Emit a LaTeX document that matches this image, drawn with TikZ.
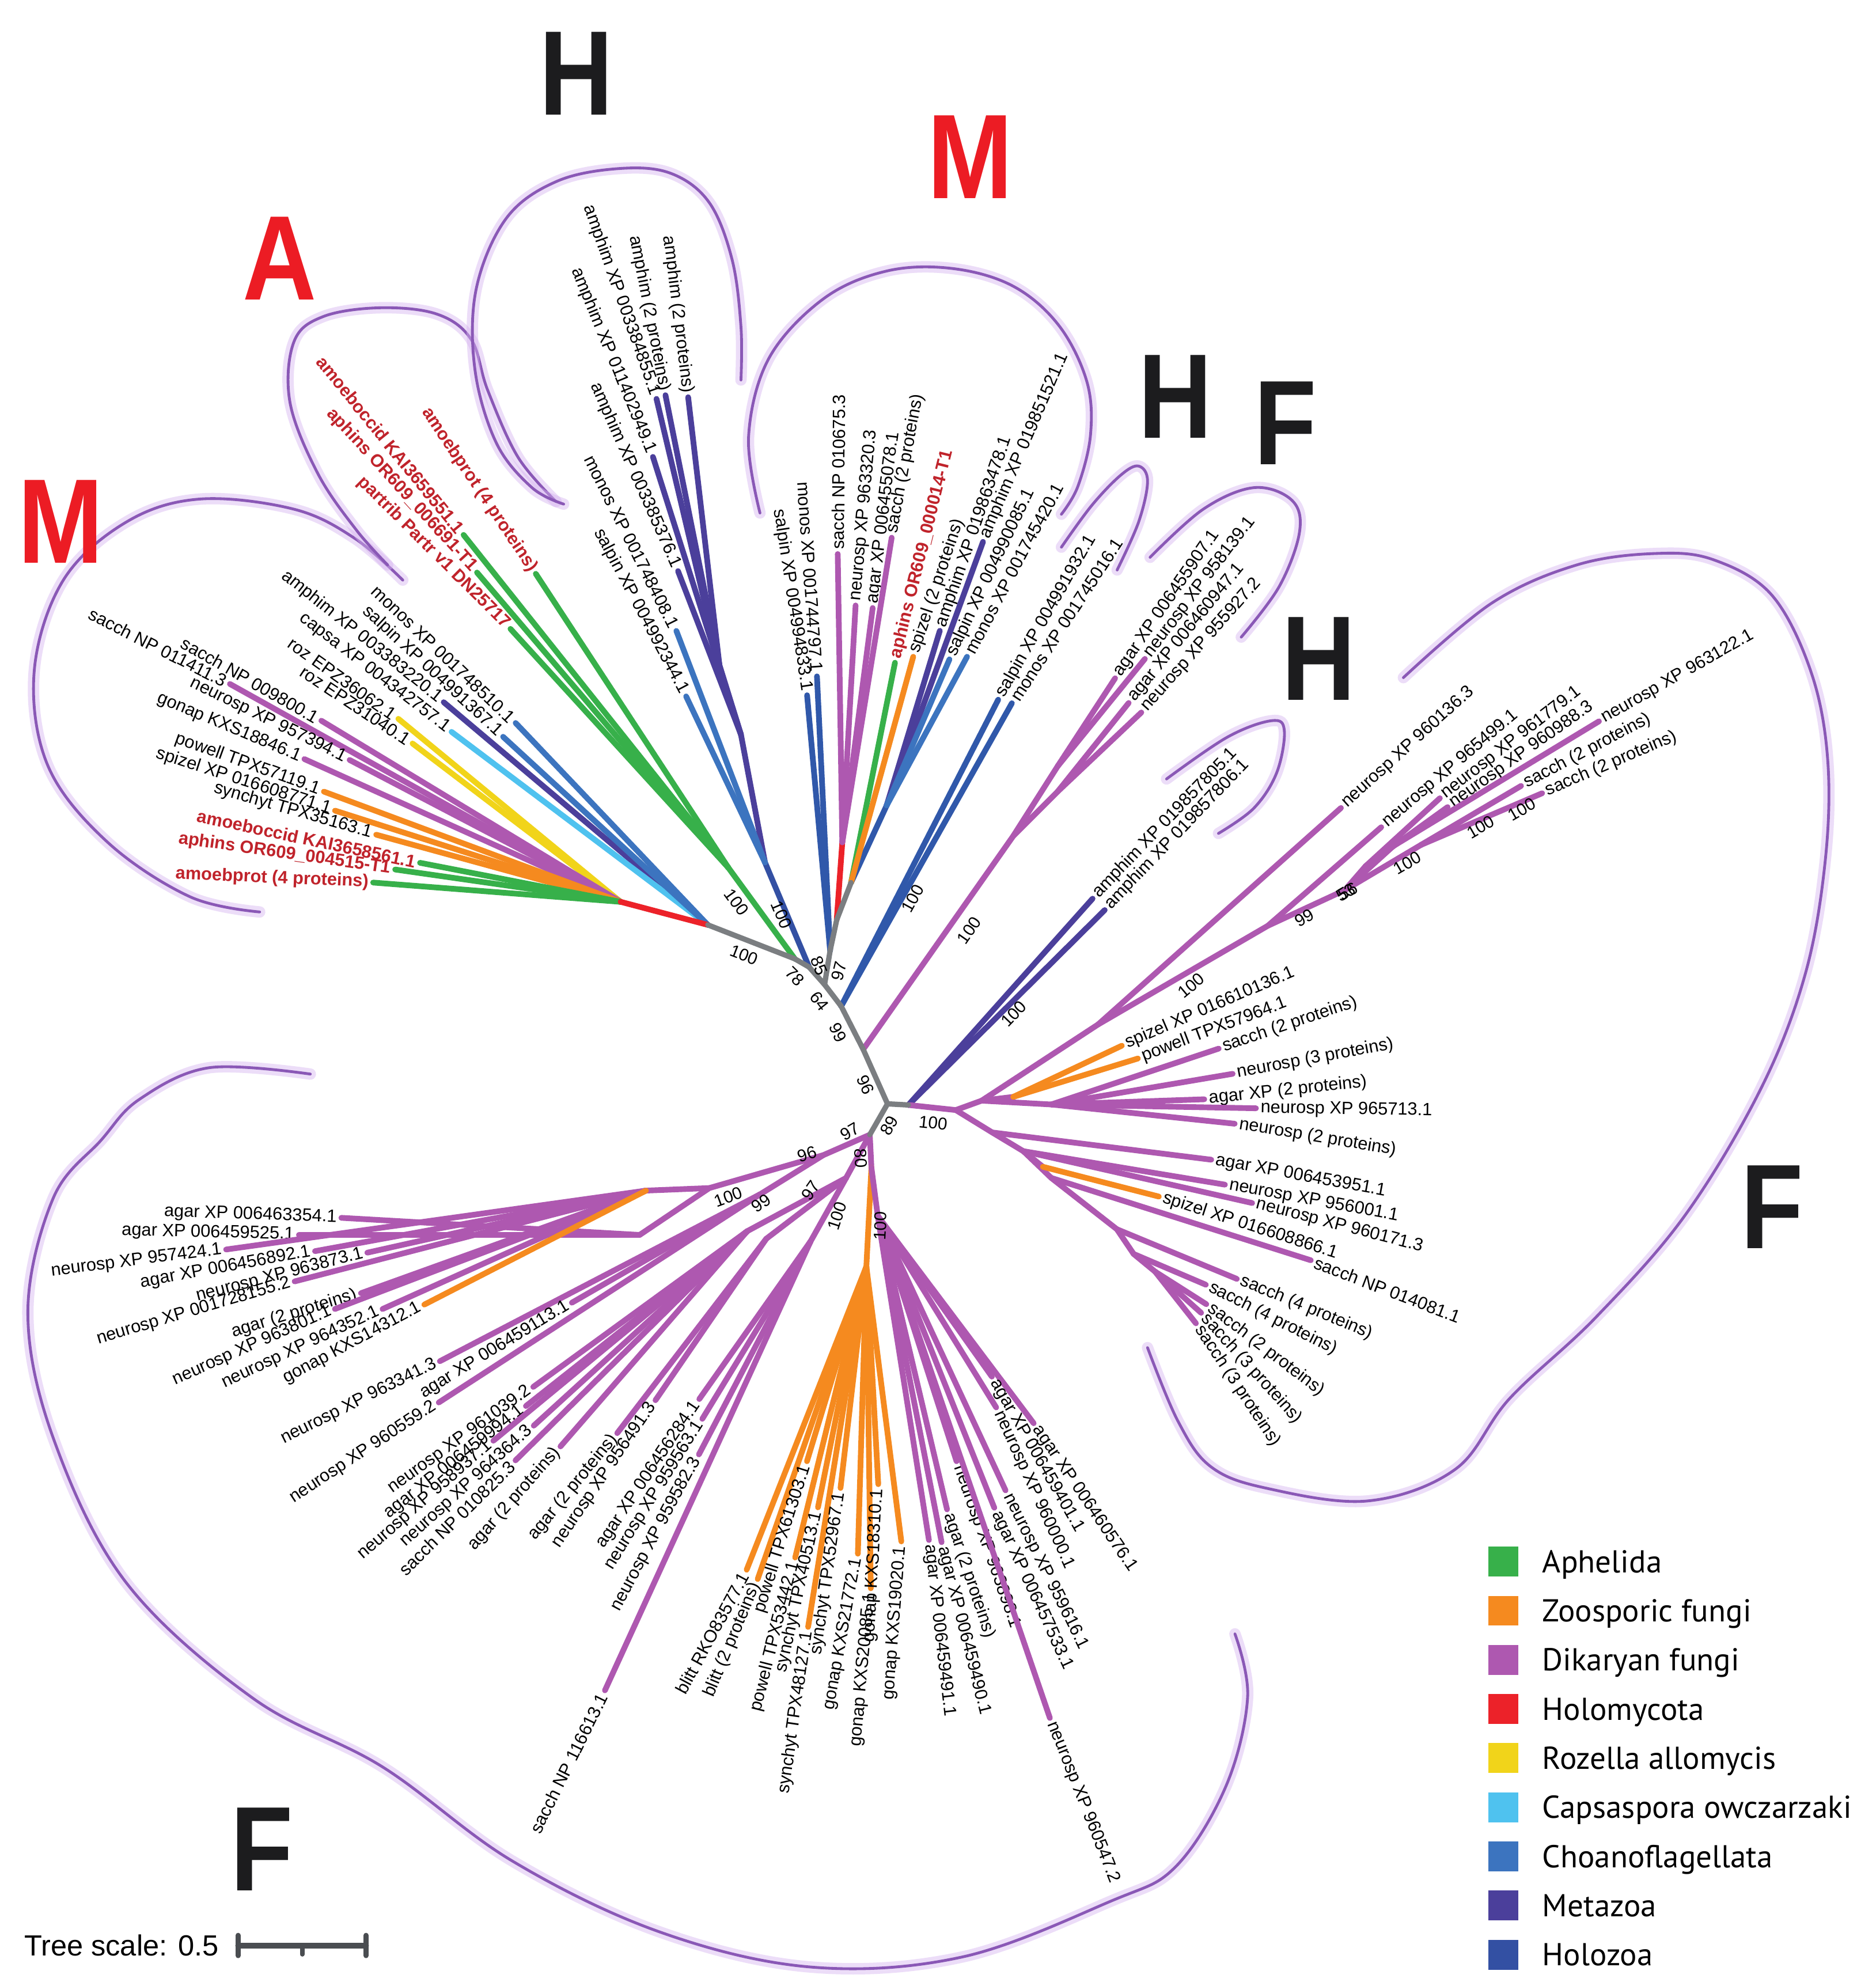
\documentclass[tikz,border=0pt]{standalone}
\usepackage{fontspec}
\setmainfont{Liberation Sans}
\newfontfamily\legfont{PT Sans}
\usetikzlibrary{calc}
\definecolor{cAph}{HTML}{37B04A}
\definecolor{cZoo}{HTML}{F58A1F}
\definecolor{cDik}{HTML}{AE58B0}
\definecolor{cHolm}{HTML}{EC2229}
\definecolor{cRoz}{HTML}{F1D41A}
\definecolor{cCap}{HTML}{4FC2EF}
\definecolor{cCho}{HTML}{3C74BF}
\definecolor{cMet}{HTML}{4B3F9B}
\definecolor{cHoz}{HTML}{3058AA}
\definecolor{cHozL}{HTML}{3350A3}
\definecolor{cGrey}{HTML}{7B7E81}
\definecolor{cRedTxt}{HTML}{C0232B}
\definecolor{cBigRed}{HTML}{EC1C24}
\definecolor{cBigBlk}{HTML}{1C1C1E}
\definecolor{cPet}{HTML}{8A58B6}
\definecolor{cGlow}{HTML}{D6B4F0}
\definecolor{cBar}{HTML}{4A4D51}
\tikzset{
  br/.style={line width=4.5pt, line cap=round},
  gr/.style={line width=4.2pt, draw=cGrey, line cap=round, line join=round},
  lab/.style={font=\fontsize{14}{14}\selectfont, inner xsep=3.5pt, inner ysep=1pt},
  redlab/.style={font=\fontsize{14}{14}\selectfont\bfseries, text=cRedTxt},
  bsn/.style={font=\fontsize{13.5}{13.5}\selectfont, inner sep=0pt},
  big/.style={font=\fontsize{95}{95}\selectfont\bfseries, xscale=0.85, inner sep=0pt},
  petal/.style={draw=cPet, line width=2.2pt, line cap=round},
  glow/.style={draw=cGlow, line width=9pt, opacity=0.45, line cap=round},
  legsq/.style={minimum width=23.5pt, minimum height=23.6pt, inner sep=0pt, draw=none},
  legtx/.style={font=\legfont\fontsize{25}{25}\selectfont, inner sep=0pt, anchor=base west},
}
% leaf: [label opts]{parent}{name}{tip}{colour}{text}{rotation}{anchor}
\newcommand\lfx[8][]{%
  \coordinate (#3) at (#4);
  \draw[br,#5] (#2) -- (#3);
  \node[lab,rotate=#7,anchor=#8,#1] (#3-t) at (#3) {#6};%
}
\newcommand\petalpath[1]{%
  \draw[glow] plot[smooth,tension=0.6] coordinates {#1};
  \draw[petal] plot[smooth,tension=0.6] coordinates {#1};
}
\begin{document}
\begin{tikzpicture}[x=1pt,y=-1pt]
\useasboundingbox (0,0) rectangle (1481,1568);
\fill[white] (0,0) rectangle (1481,1568);

% ---------------- petals ----------------
\petalpath{(318,458) (280,425) (232,402) (158,394) (100,412) (50,458) (27,530) (38,605) (85,665) (150,708) (205,720)}
\petalpath{(306,446) (281,418) (251,374) (229,318) (232,270) (255,250) (300,243) (345,248) (372,268) (385,308) (409,361) (439,396)}
\petalpath{(445,398) (420,385) (392,350) (375,292) (376,228) (400,172) (440,143) (490,133) (530,137) (560,160) (578,205) (585,258) (585,300)}
\petalpath{(600,405) (591,345) (607,283) (650,236) (700,214) (752,212) (800,226) (836,257) (858,301) (861,343) (851,384) (838,406)}
\petalpath{(838,432) (862,399) (885,375) (899,368) (906,380) (899,412) (882,450)}
\petalpath{(908,440) (950,402) (990,385) (1020,395) (1026,420) (1010,463) (980,503)}
\petalpath{(921,615) (969,582) (1004,569) (1014,577) (1008,610) (990,638) (962,658)}
\petalpath{(1108,535) (1178,476) (1245,446) (1307,437) (1353,442) (1399,470) (1430,531) (1443,600) (1441,680) (1425,770) (1390,860) (1330,960) (1260,1040) (1192,1104) (1149,1160) (1080,1185) (1000,1175) (956,1158) (930,1122) (906,1064)}
\petalpath{(245,848) (165,843) (110,868) (80,900) (42,946) (22,1037) (43,1138) (100,1250) (200,1341) (302,1395) (404,1469) (520,1525) (640,1553) (760,1545) (877,1501) (928,1474) (968,1410) (985,1340) (975,1290)}

% ---------------- backbone nodes ----------------
\coordinate (nL) at (558.8,730.2);
\coordinate (g1) at (627.5,757);
\coordinate (g2) at (638.8,763.5);
\coordinate (n78) at (651,777.3);
\coordinate (nB1) at (655.4,750.5);
\coordinate (nRd) at (660.6,726.2);
\coordinate (nMt) at (671.9,696.9);
\coordinate (nC100) at (664.1,794.4);
\coordinate (nP100) at (681.5,828.5);
\coordinate (nRoot) at (700.7,871.5);
\coordinate (nMz100) at (717.2,872.4);
\coordinate (nRF) at (754.6,876.4);
\coordinate (nBF) at (686.7,895.9);

% ---------------- left M clade ----------------
\coordinate (nR) at (490,712);
\lfx{nL}{m1}{350.3,554.4}{cMet}{amphim XP 003383220.1}{-38.7}{east}
\lfx{nL}{m4}{356.5,577.8}{cCap}{capsa XP 004342757.1}{-37.5}{east}
\lfx{nL}{m3}{397.2,581.7}{cCho}{salpin XP 004991367.1}{-42.8}{east}
\lfx{nL}{m2}{407.1,570.8}{cCho}{monos XP 001748510.1}{-43.6}{east}
\lfx{nR}{m5}{314.5,567.5}{cRoz}{roz EPZ36062.1}{-35.4}{east}
\lfx{nR}{m6}{325.7,587}{cRoz}{roz EPZ31040.1}{-33.6}{east}
\lfx{nR}{m7}{181.5,540}{cDik}{sacch NP 011411.3}{-27}{east}
\lfx{nR}{m8}{253.7,569}{cDik}{sacch NP 009800.1}{-29.7}{east}
\lfx{nR}{m9}{276,600}{cDik}{neurosp XP 957394.1}{-26.1}{east}
\lfx{nR}{m10}{240.3,599.3}{cDik}{gonap KXS18846.1}{-22.7}{east}
\lfx{nR}{m11}{255.7,625}{cZoo}{powell TPX57119.1}{-19.8}{east}
\lfx{nR}{m12}{264.5,640}{cZoo}{spizel XP 016608771.1}{-17.8}{east}
\lfx{nR}{m13}{297,659}{cZoo}{synchyt TPX35163.1}{-16.1}{east}
\lfx[redlab]{nR}{m14}{331.6,681.2}{cAph}{amoeboccid KAI3658561.1}{-12}{east}
\lfx[redlab]{nR}{m15}{312,686.5}{cAph}{aphins OR609\_004515-T1}{-8.1}{east}
\lfx[redlab]{nR}{m16}{294.6,696.8}{cAph}{amoebprot (4 proteins)}{-2.4}{east}
\draw[br,cHolm] (nL) -- (nR);

% ---------------- A clade ----------------
\coordinate (nA) at (575,685);
\draw[br,cAph] (g1) -- (nA);
\lfx[redlab]{nA}{a1}{366,422.3}{cAph}{amoeboccid KAI3659551.1}{-50.9}{east}
\lfx[redlab]{nA}{a2}{376.6,452}{cAph}{aphins OR609\_006691-T1}{-47.6}{east}
\lfx[redlab]{nA}{a3}{403,496.5}{cAph}{partrib Partr v1 DN25717}{-44.8}{east}
\lfx[redlab]{nA}{a4}{423,453}{cAph}{amoebprot (4 proteins)}{-56.1}{east}

% ---------------- H top clade ----------------
\coordinate (nHz1) at (604,681);
\coordinate (nMzB) at (585,580);
\coordinate (nMzA) at (568,525);
\draw[br,cHozL] (g2) -- (nHz1);
\draw[br,cMet] (nHz1) -- (nMzB) -- (nMzA);
\lfx{nMzA}{h1}{543.3,313.6}{cMet}{amphim (2 proteins)}{-82.9}{east}
\lfx{nMzA}{h2}{525.4,312}{cMet}{amphim (2 proteins)}{-78.9}{east}
\lfx{nMzA}{h3}{518.3,314.9}{cMet}{amphim XP 003384855.1}{-70.5}{east}
\lfx{nMzB}{h4}{515.5,360.7}{cMet}{amphim XP 011402949.1}{-67.7}{east}
\lfx{nMzB}{h5}{535.3,450.9}{cMet}{amphim XP 003385376.1}{-66}{east}
\lfx{nHz1}{h6}{534,498.1}{cCho}{monos XP 001748408.1}{-63.4}{east}
\lfx{nHz1}{h7}{541.7,549.8}{cCho}{salpin XP 004992344.1}{-62.1}{east}

% ---------------- M top clade ----------------
\coordinate (nFun) at (665,665);
\coordinate (nHzT) at (700,636);
\draw[br,cHolm] (nRd) -- (nFun);
\draw[br,cHoz] (nMt) -- (nHzT);
\lfx{nB1}{t1}{645,534}{cHoz}{monos XP 001744797.1}{-86}{east}
\lfx{nB1}{t2}{637.2,548.9}{cHoz}{salpin XP 004994833.1}{-81.3}{east}
\lfx{nFun}{t3}{661.4,437.4}{cDik}{sacch NP 010675.3}{89.5}{west}
\lfx{nFun}{t4}{675.5,478}{cDik}{neurosp XP 963320.3}{84.7}{west}
\lfx{nFun}{t5}{689,480}{cDik}{agar XP 006455078.1}{83}{west}
\lfx{nFun}{t6}{704,424.5}{cDik}{sacch (2 proteins)}{79.5}{west}
\lfx[redlab]{nMt}{t7}{706.6,523.2}{cAph}{aphins OR609\_000014-T1}{76}{west}
\lfx{nMt}{t8}{721,518.5}{cZoo}{spizel (2 proteins)}{71.5}{west}
\lfx{nHzT}{t9}{742,498}{cMet}{amphim XP 019863478.1}{70.9}{west}
\lfx{nHzT}{t10}{776.1,427.8}{cMet}{amphim XP 019851521.1}{66.7}{west}
\lfx{nHzT}{t11}{749.6,520.6}{cCho}{salpin XP 004990085.1}{64.5}{west}
\lfx{nHzT}{t12}{763.5,518.5}{cCho}{monos XP 001745420.1}{62}{west}

% ---------------- H small (choano) ----------------
\lfx{nC100}{s1}{788.1,552.4}{cHoz}{salpin XP 004991932.1}{60.1}{west}
\lfx{nC100}{s2}{798.9,555.2}{cHoz}{monos XP 001745016.1}{56.8}{west}

% ---------------- F small ----------------
\coordinate (nAg0) at (800,660);
\coordinate (nAg1) at (835,605);
\coordinate (nAg2) at (835,625);
\draw[br,cDik] (nP100) -- (nAg0) -- (nAg1);
\draw[br,cDik] (nAg0) -- (nAg2);
\lfx{nAg1}{f1}{880.4,535.5}{cDik}{agar XP 006455907.1}{55.4}{west}
\lfx{nAg1}{f2}{903.9,520.2}{cDik}{neurosp XP 958139.1}{52.6}{west}
\lfx{nAg2}{f3}{891.1,555}{cDik}{agar XP 006460947.1}{50.6}{west}
\lfx{nAg2}{f4}{901.1,562.5}{cDik}{neurosp XP 955927.2}{48.4}{west}

% ---------------- metazoa small ----------------
\lfx{nMz100}{z1}{862.6,709.5}{cMet}{amphim XP 019857805.1}{46.2}{west}
\lfx{nMz100}{z2}{872.2,718.5}{cMet}{amphim XP 019857806.1}{46.2}{west}

% ---------------- right F clade ----------------
\coordinate (nU1) at (775,869);
\coordinate (nOrU) at (800,866);
\coordinate (nU2) at (830,872);
\coordinate (n100r) at (867,808.8);
\coordinate (n99r) at (1001,730.9);
\coordinate (n53) at (1061.7,702.8);
\coordinate (nY) at (1078,684);
\coordinate (nZ) at (1100,668);
\coordinate (nZ2) at (1122,667);
\draw[br,cDik] (nMz100) -- (nRF) -- (nU1) -- (nU2);
\draw[br,cDik] (nU1) -- (nOrU);
\draw[br,cDik] (nU1) -- (n100r) -- (n99r) -- (n53) -- (nY);
\draw[br,cDik] (n53) -- (nZ);
\draw[br,cDik] (n53) -- (nZ2);
\lfx{nOrU}{r1}{885.7,825.6}{cZoo}{spizel XP 016610136.1}{23.2}{west}
\lfx{nOrU}{r2}{898.4,835.7}{cZoo}{powell TPX57964.1}{20.7}{west}
\lfx{nU2}{r3}{962.2,827.9}{cDik}{sacch (2 proteins)}{18.7}{west}
\lfx{nU2}{r4}{973.2,847.8}{cDik}{neurosp (3 proteins)}{10.5}{west}
\lfx{nU2}{r5}{950.8,867.9}{cDik}{agar XP (2 proteins)}{6}{west}
\lfx{nU2}{r6}{991.6,875}{cDik}{neurosp XP 965713.1}{-0.9}{west}
\lfx{nU2}{r7}{974.8,887.2}{cDik}{neurosp (2 proteins)}{-9.4}{west}
\lfx{n100r}{r8}{1058.7,637.9}{cDik}{neurosp XP 960136.3}{42.1}{west}
\lfx{n99r}{r9}{1090.5,653.1}{cDik}{neurosp XP 965499.1}{40.2}{west}
\lfx{nY}{r10}{1136.8,630.2}{cDik}{neurosp XP 961779.1}{37.8}{west}
\lfx{nY}{r11}{1142.9,637.2}{cDik}{neurosp XP 960988.3}{35.3}{west}
\lfx{nZ}{r12}{1262.4,569.5}{cDik}{neurosp XP 963122.1}{29.5}{west}
\lfx{nZ2}{r13}{1200.9,620.5}{cDik}{sacch (2 proteins)}{27.9}{west}
\lfx{nZ2}{r14}{1217.5,626.3}{cDik}{sacch (2 proteins)}{23.2}{west}

\coordinate (nD1) at (783.4,894.1);
\coordinate (nD2) at (808,908.9);
\coordinate (nOr2) at (823.4,921.2);
\coordinate (nD3) at (830,930);
\coordinate (nD4) at (881.8,970.5);
\coordinate (nD4b) at (895,990);
\coordinate (nD5) at (912,1004);
\draw[br,cDik] (nRF) -- (nD1) -- (nD2) -- (nD3) -- (nD4) -- (nD4b) -- (nD5);
\draw[br,cDik] (nD2) -- (nOr2);
\lfx{nD1}{r15}{956.3,915.6}{cDik}{agar XP 006453951.1}{-10.4}{west}
\lfx{nD2}{r16}{967.1,935.3}{cDik}{neurosp XP 956001.1}{-10.4}{west}
\lfx{nD2}{r17}{988.6,949.8}{cDik}{neurosp XP 960171.3}{-14.6}{west}
\lfx{nOr2}{r18}{914.9,944.7}{cZoo}{spizel XP 016608866.1}{-17.9}{west}
\lfx{nD3}{r19}{1034.9,995}{cDik}{sacch NP 014081.1}{-21}{west}
\lfx{nD4}{r20}{976.5,1009.7}{cDik}{sacch (4 proteins)}{-22.4}{west}
\lfx{nD4b}{r21}{952,1014.3}{cDik}{sacch (4 proteins)}{-26.8}{west}
\lfx{nD5}{r22}{952.4,1029.7}{cDik}{sacch (2 proteins)}{-37.3}{west}
\lfx{nD5}{r23}{948.3,1036.5}{cDik}{sacch (3 proteins)}{-47.9}{west}
\lfx{nD5}{r24}{944.2,1044.8}{cDik}{sacch (3 proteins)}{-56.4}{west}

% ---------------- bottom-left F clade ----------------
\coordinate (n96) at (650,912);
\coordinate (nA1) at (560,938);
\coordinate (nUL) at (505,975);
\coordinate (nUL2) at (510,940);
\coordinate (n99b) at (600,943);
\coordinate (nX1) at (668,930);
\coordinate (nC1) at (590,972);
\coordinate (nC3) at (605,978);
\coordinate (nC2) at (640,980);
\draw[br,cDik] (nBF) -- (n96) -- (nA1) -- (nUL);
\draw[br,cDik] (nA1) -- (nUL2);
\draw[br,cDik] (n96) -- (n99b);
\draw[br,cDik] (nBF) -- (nX1) -- (nC1);
\draw[br,cDik] (nX1) -- (nC3);
\draw[br,cDik] (nX1) -- (nC2);
\lfx{nUL}{b1}{269.5,961.5}{cDik}{agar XP 006463354.1}{-1.9}{east}
\lfx{nUL}{b2}{236,975}{cDik}{agar XP 006459525.1}{-1.3}{east}
\lfx{nUL2}{b3}{178.5,986.5}{cDik}{neurosp XP 957424.1}{7.2}{east}
\lfx{nUL2}{b4}{248.7,987.8}{cDik}{agar XP 006456892.1}{10.4}{east}
\lfx{nUL2}{b5}{290,989}{cDik}{neurosp XP 963873.1}{14.5}{east}
\lfx{nUL2}{b6}{232.6,1011.7}{cDik}{neurosp XP 001728155.2}{16.5}{east}
\lfx{nUL2}{b7}{285,1021}{cDik}{agar (2 proteins)}{17}{east}
\lfx{nUL2}{b8}{264.4,1033.5}{cDik}{neurosp XP 963801.1}{24}{east}
\lfx{nUL2}{b9}{302,1033.5}{cDik}{neurosp XP 964352.1}{25.1}{east}
\lfx{nUL2}{b10}{335,1030}{cZoo}{gonap KXS14312.1}{28.2}{east}
\lfx{n99b}{b11}{347.3,1074.7}{cDik}{neurosp XP 963341.3}{26.5}{east}
\lfx{n99b}{b12}{451.5,1028.5}{cDik}{agar XP 006459113.1}{31.4}{east}
\lfx{n99b}{b13}{346.4,1107.3}{cDik}{neurosp XP 960559.2}{33.4}{east}
\lfx{nC1}{b14}{421,1095}{cDik}{neurosp XP 961039.2}{35.7}{east}
\lfx{nC1}{b15}{415.2,1110.1}{cDik}{agar XP 006459994.1}{38}{east}
\lfx{nC1}{b16}{389.5,1137.5}{cDik}{neurosp XP 958937.1}{41}{east}
\lfx{nC1}{b17}{421.4,1125.6}{cDik}{neurosp XP 964364.3}{42.1}{east}
\lfx{nC1}{b18}{407,1153}{cDik}{sacch NP 010825.3}{44.5}{east}
\lfx{nC1}{b19}{442.5,1142}{cDik}{agar (2 proteins)}{48.7}{east}
\lfx{nC3}{b20}{487.3,1131.5}{cDik}{agar (2 proteins)}{50.8}{east}
\lfx{nC3}{b21}{517.5,1105.5}{cDik}{neurosp XP 956491.3}{55.7}{east}
\lfx{nC2}{b22}{552.1,1104.6}{cDik}{agar XP 006456284.1}{56.1}{east}
\lfx{nC2}{b23}{554.5,1120.2}{cDik}{neurosp XP 959563.1}{57.9}{east}
\lfx{nC2}{b24}{551.8,1148.3}{cDik}{neurosp XP 959582.3}{61.8}{east}
\lfx{nC2}{b25}{477.6,1334.6}{cDik}{sacch NP 116613.1}{63.6}{east}

% ---------------- bottom orange + bottom-right ----------------
\coordinate (n80) at (688,922);
\coordinate (nOr) at (684,1000);
\coordinate (nBR) at (693,960);
\draw[br,cDik] (nBF) -- (n80);
\draw[br,cZoo] (n80) -- (nOr);
\draw[br,cDik] (n80) -- (nBR);
\lfx{nOr}{o1}{589.5,1239.3}{cZoo}{blitt RKO83577.1}{61.5}{east}
\lfx{nOr}{o2}{598.2,1246.7}{cZoo}{blitt (2 proteins)}{67.4}{east}
\lfx{nOr}{o3}{637.1,1153.7}{cZoo}{powell TPX61303.1}{72.6}{east}
\lfx{nOr}{o4}{627.8,1229.7}{cZoo}{powell TPX53442.1}{75.8}{east}
\lfx{nOr}{o5}{645.8,1190.1}{cZoo}{synchyt TPX40513.1}{77.5}{east}
\lfx{nOr}{o6}{638,1284.5}{cZoo}{synchyt TPX48127.1}{81.8}{east}
\lfx{nOr}{o7}{663.6,1174.8}{cZoo}{synchyt TPX52967.1}{81.8}{east}
\lfx{nOr}{o8}{677.3,1226.7}{cZoo}{gonap KXS21772.1}{79.7}{east}
\lfx{nOr}{o9}{687.5,1254}{cZoo}{gonap KXS20085.1}{84.8}{east}
\lfx{nOr}{o10}{693.4,1171.8}{cZoo}{gonap KXS18310.1}{87}{east}
\lfx{nOr}{o11}{711.6,1217}{cZoo}{gonap KXS19020.1}{85.6}{east}
\lfx{nBR}{p1}{816.1,1123.7}{cDik}{agar XP 006460576.1}{-55.9}{west}
\lfx{nBR}{p2}{783.1,1086.9}{cDik}{agar XP 006459401.1}{-60.3}{west}
\lfx{nBR}{p3}{786.5,1111.2}{cDik}{neurosp XP 960000.1}{-65.4}{west}
\lfx{nBR}{p4}{793.9,1176.7}{cDik}{neurosp XP 959616.1}{-63.7}{west}
\lfx{nBR}{p5}{785,1190.4}{cDik}{agar XP 006457533.1}{-65.4}{west}
\lfx{nBR}{p6}{755.2,1153.7}{cDik}{neurosp XP 963898.1}{-70.5}{west}
\lfx{nBR}{p7}{747.7,1191.7}{cDik}{agar (2 proteins)}{-71.5}{west}
\lfx{nBR}{p8}{743.4,1217.6}{cDik}{agar XP 006459490.1}{-75.9}{west}
\lfx{nBR}{p9}{733.4,1215.9}{cDik}{agar XP 006459491.1}{-83.5}{west}
\lfx{nBR}{p10}{828.9,1356.4}{cDik}{neurosp XP 960547.2}{-68.5}{west}

% grey backbone on top
\draw[gr] (nL) -- (g1) -- (g2) -- (n78) -- (nB1) -- (nRd) -- (nMt);
\draw[gr] (n78) -- (nC100) -- (nP100) -- (nRoot) -- (nBF);
\draw[gr] (nRoot) -- (nMz100);

% ---------------- bootstrap values ----------------
\node[bsn,rotate=-21] (bs1) at (587.5,753.8) {100};
\node[bsn,rotate=-45] (bs2) at (627.6,770.8) {78};
\node[bsn,rotate=-67] (bs3) at (646.8,762.6) {85};
\node[bsn,rotate=76] (bs4) at (662.3,766.7) {97};
\node[bsn,rotate=-52] (bs5) at (646.8,790.3) {64};
\node[bsn,rotate=-63] (bs6) at (661.5,815.4) {99};
\node[bsn,rotate=-66] (bs7) at (683.3,856.6) {96};
\node[bsn,rotate=60] (bs8) at (702.2,888.8) {89};
\node[bsn,rotate=30] (bs9) at (670.9,893.4) {97};
\node[bsn,rotate=18] (bs10) at (637.1,911.2) {96};
\node[bsn,rotate=-88] (bs11) at (679.7,914.5) {80};
\node[bsn,rotate=-6] (bs12) at (736.7,886.6) {100};
\node[bsn,rotate=61] (bs13) at (720.5,709.5) {100};
\node[bsn,rotate=55] (bs14) at (765.2,734.4) {100};
\node[bsn,rotate=-54] (bs15) at (581.4,712.2) {100};
\node[bsn,rotate=-67] (bs16) at (617.1,722.1) {100};
\node[bsn,rotate=46] (bs17) at (800.3,800.4) {100};
\node[bsn,rotate=40] (bs18) at (940.4,778.1) {100};
\node[bsn,rotate=30] (bs19) at (1029.8,724.5) {99};
\node[bsn,rotate=30] (bs20) at (1062.7,704.8) {53};
\node[bsn,rotate=30] (bs21) at (1064.2,703.6) {56};
\node[bsn,rotate=30] (bs22) at (1111.1,681.3) {100};
\node[bsn,rotate=30] (bs23) at (1169,653) {100};
\node[bsn,rotate=30] (bs24) at (1201.5,639) {100};
\node[bsn,rotate=20] (bs25) at (575,945) {100};
\node[bsn,rotate=35] (bs26) at (601,950) {99};
\node[bsn,rotate=55] (bs27) at (640,940) {97};
\node[bsn,rotate=72] (bs28) at (661,960) {100};
\node[bsn,rotate=87] (bs29) at (695,968) {100};

% ---------------- big letters ----------------
\node[big,text=cBigRed] (L1) at (48,412) {M};
\node[big,text=cBigRed] (L2) at (221,204) {A};
\node[big,text=cBigBlk] (L3) at (455,58) {H};
\node[big,text=cBigRed] (L4) at (766,124) {M};
\node[big,text=cBigBlk] (L5) at (928,313) {H};
\node[big,text=cBigBlk] (L6) at (1015,334) {F};
\node[big,text=cBigBlk] (L7) at (1041,520) {H};
\node[big,text=cBigBlk] (L8) at (1399,953) {F};
\node[big,text=cBigBlk] (L9) at (207,1460) {F};

% ---------------- legend ----------------
\foreach \i/\c/\t in {0/cAph/Aphelida,1/cZoo/Zoosporic fungi,2/cDik/Dikaryan fungi,3/cHolm/Holomycota,4/cRoz/Rozella allomycis,5/cCap/Capsaspora owczarzaki,6/cCho/Choanoflagellata,7/cMet/Metazoa,8/cHozL/Holozoa}{
  \node[legsq,fill=\c] (lgs\i) at (1187,1232.9+38.8*\i) {};
  \node[legtx] (lgt\i) at (1217.6,1241.6+38.8*\i) {\t};
}

% ---------------- tree scale ----------------
\node[font=\fontsize{23}{23}\selectfont, anchor=west, inner sep=0pt] (tsl) at (19,1536) {Tree scale: 0.5};
\coordinate (sb1) at (188,1536);
\coordinate (sb2) at (289,1536);
\coordinate (sbm) at (238.6,1536);
\coordinate (sb1a) at (188,1528);
\coordinate (sb1b) at (188,1544);
\coordinate (sb2a) at (289,1528);
\coordinate (sb2b) at (289,1544);
\coordinate (sbmb) at (238.6,1543);
\draw[cBar, line width=4.5pt, line cap=round] (sb1) -- (sb2);
\draw[cBar, line width=4pt, line cap=round] (sb1a) -- (sb1b);
\draw[cBar, line width=4pt, line cap=round] (sb2a) -- (sb2b);
\draw[cBar, line width=3.5pt, line cap=round] (sbm) -- (sbmb);
\end{tikzpicture}
\end{document}
